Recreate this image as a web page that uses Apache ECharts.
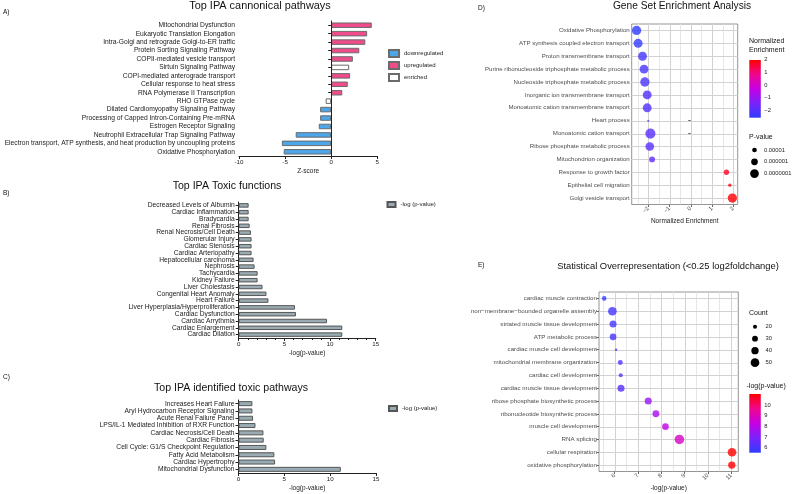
<!DOCTYPE html>
<html>
<head>
<meta charset="utf-8">
<script src="https://cdn.jsdelivr.net/npm/echarts@6/dist/echarts.min.js"></script>
<style>
  html, body { margin: 0; padding: 0; background: #fff; }
  #chart { width: 794px; height: 494px; }
</style>
</head>
<body>
<div id="chart"></div>
<script>
// A) canonical pathways (z-score)
const aPathways = ['Mitochondrial Dysfunction', 'Eukaryotic Translation Elongation', 'Intra-Golgi and retrograde Golgi-to-ER traffic',
  'Protein Sorting Signaling Pathway', 'COPII-mediated vesicle transport', 'Sirtuin Signaling Pathway',
  'COPI-mediated anterograde transport', 'Cellular response to heat stress', 'RNA Polymerase II Transcription',
  'RHO GTPase cycle', 'Dilated Cardiomyopathy Signaling Pathway', 'Processing of Capped Intron-Containing Pre-mRNA',
  'Estrogen Receptor Signaling', 'Neutrophil Extracellular Trap Signaling Pathway',
  'Electron transport, ATP synthesis, and heat production by uncoupling proteins', 'Oxidative Phosphorylation'];
const aZscore = [4.4, 3.9, 3.7, 3.05, 2.35, 1.95, 2.05, 1.8, 1.2, -0.6, -1.2, -1.2, -1.35, -3.85, -5.35, -5.15];
const aRegulation = ['upregulated', 'upregulated', 'upregulated', 'upregulated', 'upregulated', 'enriched',
  'upregulated', 'upregulated', 'upregulated', 'enriched', 'downregulated', 'downregulated', 'downregulated',
  'downregulated', 'downregulated', 'downregulated'];

// B) toxic functions
const bFunctions = ['Decreased Levels of Albumin', 'Cardiac Inflammation', 'Bradycardia', 'Renal Fibrosis',
  'Renal Necrosis/Cell Death', 'Glomerular Injury', 'Cardiac Stenosis', 'Cardiac Arteriopathy',
  'Hepatocellular carcinoma', 'Nephrosis', 'Tachycardia', 'Kidney Failure', 'Liver Cholestasis',
  'Congenital Heart Anomaly', 'Heart Failure', 'Liver Hyperplasia/Hyperproliferation', 'Cardiac Dysfunction',
  'Cardiac Arrythmia', 'Cardiac Enlargement', 'Cardiac Dilation'];
const bLogP = [1.09, 1.09, 1.09, 1.2, 1.34, 1.41, 1.41, 1.41, 1.63, 1.74, 2.07, 2.07, 2.61, 3.04, 3.26, 6.16, 6.27, 9.67, 11.34, 11.34];

// C) toxic pathways
const cPathways = ['Increases Heart Failure', 'Aryl Hydrocarbon Receptor Signaling', 'Acute Renal Failure Panel',
  'LPS/IL-1 Mediated Inhibition of RXR Function', 'Cardiac Necrosis/Cell Death', 'Cardiac Fibrosis',
  'Cell Cycle: G1/S Checkpoint Regulation', 'Fatty Acid Metabolism', 'Cardiac Hypertrophy', 'Mitochondrial Dysfunction'];
const cLogP = [1.52, 1.52, 1.59, 1.85, 2.72, 2.75, 3.04, 3.91, 3.99, 11.16];

// D) GSEA
const dTerms = ['Oxidative Phosphorylation', 'ATP synthesis coupled electron transport', 'Proton transmembrane transport',
  'Purine ribonucleoside triphosphate metabolic process', 'Nucleoside triphosphate metabolic process',
  'Inorganic ion transmembrane transport', 'Monoatomic cation transmembrane transport', 'Heart process',
  'Monoatomic cation transport', 'Ribose phosphate metabolic process', 'Mitochondrion organization',
  'Response to growth factor', 'Epithelial cell migration', 'Golgi vesicle transport'];
const dNes = [-2.55, -2.48, -2.27, -2.2, -2.16, -2.05, -2.05, -2.0, -1.9, -1.93, -1.82, 1.68, 1.84, 1.96];
const dPval = [5e-8, 7e-8, 8e-8, 8e-8, 5e-8, 8e-8, 8e-8, 3e-4, 2e-8, 1e-7, 2.5e-6, 5e-6, 5e-5, 5e-8];
const dTicks = [-2, -1, 0, 1, 2];
const dPLegend = [0.00001, 0.000001, 0.0000001];

// E) overrepresentation
const eTerms = ['cardiac muscle contraction', 'non−membrane−bounded organelle assembly', 'striated muscle tissue development',
  'ATP metabolic process', 'cardiac muscle cell development', 'mitochondrial membrane organization',
  'cardiac cell development', 'cardiac muscle tissue development', 'ribose phosphate biosynthetic process',
  'ribonucleotide biosynthetic process', 'muscle cell development', 'RNA splicing', 'cellular respiration',
  'oxidative phosphorylation'];
const eLogP = [5.55, 5.9, 5.93, 5.93, 6.06, 6.24, 6.26, 6.27, 7.44, 7.77, 8.18, 8.78, 11.04, 11.03];
const eCount = [23, 50, 38, 35, 13, 25, 20, 38, 38, 37, 35, 57, 50, 40];
const eTicks = [6, 7, 8, 9, 10, 11];
const eCountLegend = [20, 30, 40, 50];

const FONT = '"Liberation Sans", Arial, Helvetica, sans-serif';
const regColors = { downregulated: '#4ba6ea', upregulated: '#ef4c8c', enriched: '#ffffff' };
const grayBar = '#9aabb3';
const palette = ['#2f3cff', '#7a22fb', '#c600e4', '#f0068c', '#ff0000'];

const pSize = p => Math.max(2, 2 * (-Math.log10(p)) - 5.3);
const countSize = c => Math.max(2, 1.81 * Math.sqrt(c) - 4.1);

const chart = echarts.init(document.getElementById('chart'), null, { renderer: 'canvas' });

// prism style axes for the left panels
function prismX(grid, showMin, name) {
  return {
    gridIndex: grid, type: 'value', min: grid === 0 ? -10 : 0, max: grid === 0 ? 5 : 15, interval: 5,
    axisLine: { show: true, lineStyle: { color: '#222', width: 1 } },
    axisTick: { show: true, length: 3, lineStyle: { color: '#222' } },
    minorTick: { show: showMin, splitNumber: 5, length: 2, lineStyle: { color: '#222' } },
    axisLabel: { fontSize: 6.2, color: '#222', margin: 3, fontFamily: FONT },
    splitLine: { show: false },
    name: name, nameLocation: 'middle', nameGap: 11.5,
    nameTextStyle: { fontSize: 6.5, color: '#222', fontFamily: FONT }
  };
}
function prismY(grid, cats) {
  return {
    gridIndex: grid, type: 'category', data: cats, inverse: true,
    axisLine: { show: true, lineStyle: { color: '#222', width: 1 } },
    axisTick: { show: true, alignWithLabel: true, length: 3, lineStyle: { color: '#222' } },
    axisLabel: { fontSize: 6.7, color: '#1a1a1a', margin: 4, interval: 0, fontFamily: FONT },
    splitLine: { show: false }
  };
}
// ggplot style axes for the right panels
function ggX(grid, min, max, ticks, name, gap) {
  return {
    gridIndex: grid, type: 'value', min: min, max: max,
    axisLine: { show: false },
    axisTick: { show: true, customValues: ticks, length: 2.5, lineStyle: { color: '#444', width: 0.8 } },
    axisLabel: { customValues: ticks, rotate: 45, fontSize: 5.8, color: '#4d4d4d', margin: 3, fontFamily: FONT,
      formatter: v => (v < 0 ? '−' + Math.abs(v) : String(v)) },
    splitLine: { show: false },
    name: name, nameLocation: 'middle', nameGap: gap,
    nameTextStyle: { fontSize: 6.5, color: '#1a1a1a', fontFamily: FONT }
  };
}
function ggY(grid, cats, size) {
  return {
    gridIndex: grid, type: 'category', data: cats, inverse: true,
    axisLine: { show: false },
    axisTick: { show: true, alignWithLabel: true, length: 2.5, lineStyle: { color: '#444', width: 0.8 } },
    axisLabel: { fontSize: size, color: '#4d4d4d', margin: 2, interval: 0, fontFamily: FONT },
    splitLine: { show: false }
  };
}
// ggplot panel background grid drawn through the axes' own scales
function ggGrid(gi, ticks, cats, xmin) {
  const data = [];
  ticks.forEach(t => data.push([t, 0, 0]));
  ticks.forEach(t => data.push([t - 0.5, 0, 1]));
  cats.forEach((c, i) => data.push([xmin, i, 2]));
  return {
    type: 'custom', xAxisIndex: gi, yAxisIndex: gi, z: 1, silent: true, clip: true, data: data,
    renderItem: (params, api) => {
      const cs = params.coordSys;
      const p = api.coord([api.value(0), api.value(1)]);
      const kind = api.value(2);
      const x = Math.round(p[0]) + 0.5, y = Math.round(p[1]) + 0.5;
      const shape = kind === 2
        ? { x1: cs.x, y1: y, x2: cs.x + cs.width, y2: y }
        : { x1: x, y1: cs.y, x2: x, y2: cs.y + cs.height };
      return { type: 'line', shape: shape, style: { stroke: kind === 1 ? '#e6e6e6' : '#d2d2d2', lineWidth: 1 } };
    }
  };
}

const aSeries = ['downregulated', 'upregulated', 'enriched'].map(g => ({
  name: g, type: 'bar', xAxisIndex: 0, yAxisIndex: 0, barWidth: 5.5, barGap: '-100%',
  data: aZscore.map((v, i) => (aRegulation[i] === g ? v : '-')),
  itemStyle: { color: regColors[g], borderColor: '#6b6b6b', borderWidth: 1 }
}));
aSeries[1].markLine = {
  silent: true, symbol: ['none', 'none'], label: { show: false },
  lineStyle: { color: '#222', width: 1, type: 'solid' }, data: [{ xAxis: 0 }]
};

const texts = [
  ['A)', 3, 12, 6.5, 'left'], ['Top IPA cannonical pathways', 260, 6, 10.9, 'center'],
  ['B)', 3, 193, 6.5, 'left'], ['Top IPA Toxic functions', 227, 186, 10.6, 'center'],
  ['C)', 3, 377, 6.5, 'left'], ['Top IPA identified toxic pathways', 231, 388, 10.6, 'center'],
  ['D)', 478, 8, 6.5, 'left'], ['Gene Set Enrichment Analysis', 682, 6, 10.2, 'center'],
  ['E)', 478, 265, 6.5, 'left'], ['Statistical Overrepresentation (<0.25 log2foldchange)', 668, 266, 9.4, 'center'],
  ['Normalized', 749, 41, 7, 'left'], ['Enrichment', 749, 50, 7, 'left'],
  ['P-value', 749, 137, 7, 'left'], ['Count', 749, 313, 7, 'left'], ['-log(p-value)', 746.5, 386.5, 7, 'left']
];
const graphics = texts.map(t => ({
  type: 'text', x: t[1], y: t[2],
  style: { text: t[0], font: t[3] + 'px ' + FONT, fill: '#111', textAlign: t[4], textVerticalAlign: 'middle' }
}));

// colour bars
function colorBar(x, y, h, lo, hi, ticks) {
  graphics.push({
    type: 'rect', shape: { x: x, y: y, width: 11.5, height: h },
    style: { fill: { type: 'linear', x: 0, y: 0, x2: 0, y2: 1,
      colorStops: palette.slice().reverse().map((c, i) => ({ offset: i / (palette.length - 1), color: c })) } }
  });
  ticks.forEach(v => {
    graphics.push({
      type: 'text', x: x + 15, y: y + (hi - v) / (hi - lo) * h,
      style: { text: v < 0 ? '−' + Math.abs(v) : String(v), font: '5.8px ' + FONT, fill: '#222', textVerticalAlign: 'middle' }
    });
  });
}
colorBar(749.3, 60, 57.7, Math.min(...dNes), Math.max(...dNes), dTicks);
colorBar(749.3, 394, 58.7, Math.min(...eLogP), Math.max(...eLogP), [10, 9, 8, 7, 6]);

// size legends
dPLegend.forEach((p, i) => {
  const y = 150 + i * 11.8;
  graphics.push({ type: 'circle', shape: { cx: 754.5, cy: y, r: pSize(p) / 2 }, style: { fill: '#000' } });
  graphics.push({ type: 'text', x: 764, y: y, style: { text: p.toFixed(-Math.floor(Math.log10(p))), font: '5.8px ' + FONT, fill: '#222', textVerticalAlign: 'middle' } });
});
eCountLegend.forEach((c, i) => {
  const y = 326.7 + i * 12;
  graphics.push({ type: 'circle', shape: { cx: 755, cy: y, r: countSize(c) / 2 }, style: { fill: '#000' } });
  graphics.push({ type: 'text', x: 765.5, y: y, style: { text: String(c), font: '5.8px ' + FONT, fill: '#222', textVerticalAlign: 'middle' } });
});

const legendBase = {
  orient: 'vertical', icon: 'rect', selectedMode: false, itemWidth: 10, itemHeight: 6, itemGap: 4,
  textStyle: { fontSize: 6, color: '#222', fontFamily: FONT }, padding: 0
};

const option = {
  backgroundColor: '#fff',
  animation: false,
  textStyle: { fontFamily: FONT },
  grid: [
    { left: 239, top: 21, width: 138.3, height: 135 },
    { left: 238.7, top: 202, width: 137, height: 136 },
    { left: 238.5, top: 400, width: 137.5, height: 73 },
    { left: 631.7, top: 24, width: 106, height: 180.5, show: true, borderColor: '#7a7a7a', borderWidth: 0.8, backgroundColor: 'transparent' },
    { left: 599, top: 292, width: 139.3, height: 179.5, show: true, borderColor: '#7a7a7a', borderWidth: 0.8, backgroundColor: 'transparent' }
  ],
  xAxis: [
    prismX(0, false, 'Z-score'),
    prismX(1, true, '-log(p-value)'),
    prismX(2, false, '-log(p-value)'),
    ggX(3, -2.78, 2.21, dTicks, 'Normalized Enrichment', 10),
    ggX(4, 5.325, 11.31, eTicks, '-log(p-value)', 13)
  ],
  yAxis: [
    prismY(0, aPathways),
    prismY(1, bFunctions),
    prismY(2, cPathways),
    ggY(3, dTerms, 6.1),
    ggY(4, eTerms, 6.2)
  ],
  legend: [
    Object.assign({}, legendBase, { left: 388, top: 49, itemGap: 3, itemHeight: 7, data: ['downregulated', 'upregulated', 'enriched'] }),
    Object.assign({}, legendBase, { left: 386.5, top: 201, itemWidth: 8, itemHeight: 5, data: ['-log (p-value)'] }),
    Object.assign({}, legendBase, { left: 388, top: 405, itemWidth: 8, itemHeight: 5, data: ['-log (p-value)'] })
  ],
  visualMap: [
    { type: 'continuous', show: false, seriesIndex: 5, dimension: 0,
      min: Math.min(...dNes), max: Math.max(...dNes), inRange: { color: palette } },
    { type: 'continuous', show: false, seriesIndex: 6, dimension: 0,
      min: Math.min(...eLogP), max: Math.max(...eLogP), inRange: { color: palette } }
  ],
  series: [
    ...aSeries,
    { name: '-log (p-value)', type: 'bar', xAxisIndex: 1, yAxisIndex: 1, barWidth: 4.5, data: bLogP,
      itemStyle: { color: grayBar, borderColor: '#555', borderWidth: 1 } },
    { name: '-log (p-value)', type: 'bar', xAxisIndex: 2, yAxisIndex: 2, barWidth: 5, data: cLogP,
      itemStyle: { color: grayBar, borderColor: '#555', borderWidth: 1 } },
    { name: 'GSEA', type: 'scatter', xAxisIndex: 3, yAxisIndex: 3, z: 6,
      data: dNes.map((v, i) => [v, i, dPval[i]]),
      symbolSize: val => pSize(val[2]) },
    { name: 'ORA', type: 'scatter', xAxisIndex: 4, yAxisIndex: 4, z: 6,
      data: eLogP.map((v, i) => [v, i, eCount[i]]),
      symbolSize: val => countSize(val[2]) },
    ggGrid(3, dTicks, dTerms, -2.78),
    ggGrid(4, eTicks, eTerms, 5.325)
  ],
  graphic: graphics
};
chart.setOption(option);
</script>
</body>
</html>
